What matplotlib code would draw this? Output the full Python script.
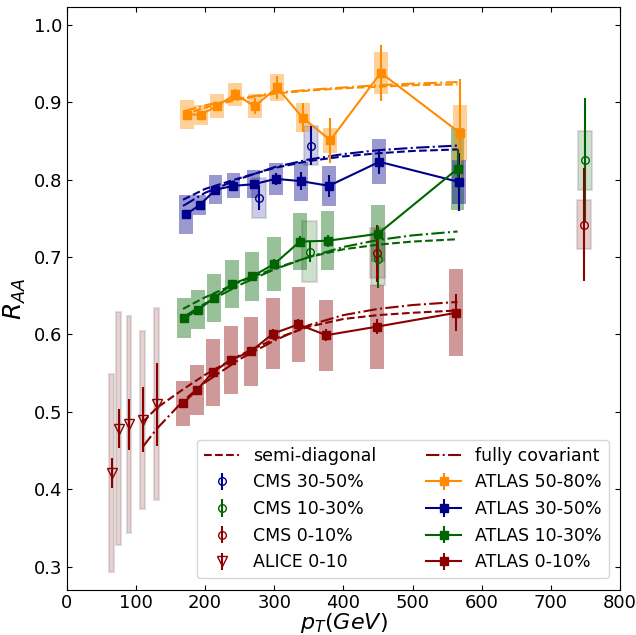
import numpy as np
import matplotlib
matplotlib.use("Agg")
import matplotlib.pyplot as plt
from matplotlib.patches import Rectangle

# ---------------- data ----------------
atlas_pt = [168, 188, 211, 237, 266, 298, 335, 375, 448, 563]

atlas5080_y = [0.884, 0.884, 0.895, 0.910, 0.895, 0.919, 0.880, 0.851, 0.938, 0.860]
atlas5080_stat = [0.004, 0.004, 0.005, 0.007, 0.010, 0.015, 0.019, 0.029, 0.036, 0.070]
atlas5080_sys = [0.019, 0.013, 0.015, 0.015, 0.015, 0.017, 0.019, 0.016, 0.027, 0.036]

atlas3050_y = [0.755, 0.767, 0.787, 0.792, 0.794, 0.801, 0.798, 0.792, 0.823, 0.797]
atlas3050_stat = [0.005, 0.005, 0.005, 0.006, 0.006, 0.008, 0.012, 0.014, 0.016, 0.037]
atlas3050_sys = [0.025, 0.013, 0.019, 0.016, 0.018, 0.021, 0.025, 0.026, 0.029, 0.028]

atlas1030_y = [0.621, 0.632, 0.647, 0.665, 0.675, 0.691, 0.720, 0.721, 0.730, 0.814]
atlas1030_stat = [0.004, 0.004, 0.004, 0.005, 0.005, 0.006, 0.007, 0.008, 0.010, 0.025]
atlas1030_sys = [0.026, 0.025, 0.031, 0.031, 0.032, 0.035, 0.037, 0.038, 0.037, 0.053]

atlas0010_y = [0.511, 0.528, 0.551, 0.567, 0.578, 0.601, 0.613, 0.599, 0.610, 0.628]
atlas0010_stat = [0.004, 0.005, 0.005, 0.005, 0.006, 0.006, 0.007, 0.008, 0.010, 0.024]
atlas0010_sys = [0.029, 0.032, 0.043, 0.044, 0.044, 0.046, 0.048, 0.046, 0.054, 0.056]

cms3050_pt = [278, 353]
cms3050_y = [0.7765, 0.844]
cms3050_stat = [0.016, 0.025]
cms3050_sys = [0.026, 0.025]

cms1030_pt = [351, 450, 749]
cms1030_y = [0.707, 0.6975, 0.825]
cms1030_stat = [0.013, 0.038, 0.080]
cms1030_sys = [0.039, 0.033, 0.038]

cms0010_pt = [449, 748]
cms0010_y = [0.705, 0.742]
cms0010_stat = [0.037, 0.073]
cms0010_sys = [0.032, 0.032]

alice_pt = [65, 75, 90, 110, 130]
alice_y = [0.421, 0.4785, 0.484, 0.490, 0.5096]
alice_stat = [0.019, 0.025, 0.033, 0.042, 0.054]
alice_sys = [0.128, 0.151, 0.140, 0.115, 0.124]

# theory curves
th_pt = [168, 200, 250, 300, 350, 400, 450, 500, 565]
semi_5080 = [0.884, 0.893, 0.904, 0.911, 0.915, 0.918, 0.920, 0.922, 0.923]
full_5080 = [0.888, 0.896, 0.905, 0.912, 0.916, 0.919, 0.922, 0.924, 0.926]
semi_3050 = [0.774, 0.788, 0.802, 0.815, 0.824, 0.830, 0.834, 0.837, 0.839]
full_3050 = [0.766, 0.783, 0.801, 0.816, 0.826, 0.833, 0.838, 0.841, 0.844]
semi_1030 = [0.633, 0.648, 0.668, 0.685, 0.700, 0.710, 0.716, 0.720, 0.723]
full_1030 = [0.622, 0.640, 0.664, 0.684, 0.700, 0.713, 0.722, 0.728, 0.733]
th_pt_central = [110, 130, 168, 200, 250, 300, 350, 400, 450, 500, 565]
semi_0010 = [0.487, 0.505, 0.529, 0.548, 0.573, 0.594, 0.610, 0.620, 0.625, 0.628, 0.631]
full_0010 = [0.455, 0.478, 0.514, 0.538, 0.568, 0.592, 0.612, 0.625, 0.633, 0.638, 0.642]

# ---------------- style ----------------
C_OR, C_BL, C_GR, C_RD = "darkorange", "darkblue", "darkgreen", "darkred"
plt.rcParams["font.family"] = "DejaVu Sans"

fig = plt.figure(figsize=(6.36, 6.35), dpi=100)
ax = fig.add_axes([0.105, 0.071, 0.870, 0.918])


def boxes(x, y, s, w, color, alpha, edge=False, shift=0.0):
    for xi, yi, si in zip(x, y, s):
        if edge:
            r = Rectangle((xi + shift - w / 2, yi - si), w, 2 * si,
                          facecolor=matplotlib.colors.to_rgba(color, alpha),
                          edgecolor=(0.5, 0.5, 0.5, 0.25), lw=1.5, zorder=1)
        else:
            r = Rectangle((xi + shift - w / 2, yi - si), w, 2 * si,
                          facecolor=matplotlib.colors.to_rgba(color, alpha),
                          edgecolor="none", zorder=1)
        ax.add_patch(r)


# ALICE
boxes(alice_pt, alice_y, alice_sys, 7, C_RD, 0.18, edge=True)
h_alice = ax.errorbar(alice_pt, alice_y, yerr=alice_stat, fmt="v", mfc="none",
                      mec=C_RD, color=C_RD, ms=6.5, lw=1.5, zorder=4,
                      label="ALICE 0-10")

# CMS
boxes(cms3050_pt, cms3050_y, cms3050_sys, 21, C_BL, 0.2, edge=True)
boxes(cms1030_pt, cms1030_y, cms1030_sys, 21, C_GR, 0.2, edge=True)
boxes(cms0010_pt, cms0010_y, cms0010_sys, 21, C_RD, 0.2, edge=True)

# ATLAS boxes
shifts = {"or": 6, "bl": 4, "gr": 2, "rd": 0}
boxes(atlas_pt, atlas0010_y, atlas0010_sys, 20, C_RD, 0.4, shift=shifts["rd"])
boxes(atlas_pt, atlas1030_y, atlas1030_sys, 20, C_GR, 0.4, shift=shifts["gr"])
boxes(atlas_pt, atlas3050_y, atlas3050_sys, 20, C_BL, 0.4, shift=shifts["bl"])
boxes(atlas_pt, atlas5080_y, atlas5080_sys, 20, C_OR, 0.4, shift=shifts["or"])

h_cms3050 = ax.errorbar(cms3050_pt, cms3050_y, yerr=cms3050_stat, fmt="o",
                        mfc="none", mec=C_BL, color=C_BL, ms=5.5, lw=1.5,
                        zorder=4, label="CMS 30-50%")
h_cms1030 = ax.errorbar(cms1030_pt, cms1030_y, yerr=cms1030_stat, fmt="o",
                        mfc="none", mec=C_GR, color=C_GR, ms=5.5, lw=1.5,
                        zorder=4, label="CMS 10-30%")
h_cms0010 = ax.errorbar(cms0010_pt, cms0010_y, yerr=cms0010_stat, fmt="o",
                        mfc="none", mec=C_RD, color=C_RD, ms=5.5, lw=1.5,
                        zorder=4, label="CMS 0-10%")

# theory
ax.plot(th_pt, semi_5080, "--", color=C_OR, lw=1.5, zorder=3)
ax.plot(th_pt, full_5080, "-.", color=C_OR, lw=1.5, zorder=3)
ax.plot(th_pt, semi_3050, "--", color=C_BL, lw=1.5, zorder=3)
ax.plot(th_pt, full_3050, "-.", color=C_BL, lw=1.5, zorder=3)
ax.plot(th_pt, semi_1030, "--", color=C_GR, lw=1.5, zorder=3)
ax.plot(th_pt, full_1030, "-.", color=C_GR, lw=1.5, zorder=3)
h_semi, = ax.plot(th_pt_central, semi_0010, "--", color=C_RD, lw=1.5,
                  zorder=3, label="semi-diagonal")
h_full, = ax.plot(th_pt_central, full_0010, "-.", color=C_RD, lw=1.5,
                  zorder=3, label="fully covariant")

# ATLAS points
xa = np.array(atlas_pt, dtype=float)
h_a5080 = ax.errorbar(xa + shifts["or"], atlas5080_y, yerr=atlas5080_stat,
                      fmt="s-", color=C_OR, ms=6, lw=1.5, zorder=5,
                      label="ATLAS 50-80%")
h_a3050 = ax.errorbar(xa + shifts["bl"], atlas3050_y, yerr=atlas3050_stat,
                      fmt="s-", color=C_BL, ms=6, lw=1.5, zorder=5,
                      label="ATLAS 30-50%")
h_a1030 = ax.errorbar(xa + shifts["gr"], atlas1030_y, yerr=atlas1030_stat,
                      fmt="s-", color=C_GR, ms=6, lw=1.5, zorder=5,
                      label="ATLAS 10-30%")
h_a0010 = ax.errorbar(xa + shifts["rd"], atlas0010_y, yerr=atlas0010_stat,
                      fmt="s-", color=C_RD, ms=6, lw=1.5, zorder=5,
                      label="ATLAS 0-10%")

ax.set_xlim(0, 800)
ax.set_ylim(0.27, 1.023)
ax.set_xticks(np.arange(0, 801, 100))
ax.set_yticks(np.arange(0.3, 1.01, 0.1))
ax.tick_params(direction="in", top=True, right=True, labelsize=13)
ax.tick_params(axis="x", pad=3)
ax.set_xlabel("$p_T(GeV)$", fontsize=16, labelpad=-1)
ax.set_ylabel("$R_{AA}$", fontsize=18)

handles = [h_semi, h_cms3050, h_cms1030, h_cms0010, h_alice,
           h_full, h_a5080, h_a3050, h_a1030, h_a0010]
ax.legend(handles=handles, labels=[h.get_label() for h in handles],
          ncol=2, loc="lower right", fontsize=12.5, columnspacing=2.9,
          bbox_to_anchor=(0.995, 0.005))

fig.savefig("out.png", dpi=100)
